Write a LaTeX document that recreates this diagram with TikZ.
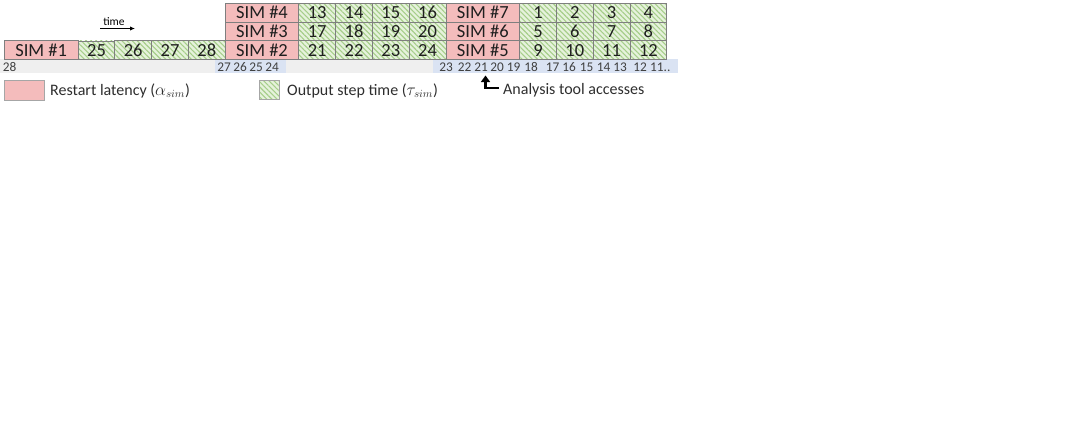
\documentclass[tikz,border=0pt]{standalone}
\usepackage{fontspec}
\setmainfont{Carlito}
\usetikzlibrary{patterns.meta,arrows.meta}
\definecolor{simpink}{HTML}{F4BCBC}
\definecolor{outgreen}{HTML}{E6F2DC}
\definecolor{stripe}{HTML}{A6CE8A}
\definecolor{cellline}{HTML}{7F7F7F}
\definecolor{bargray}{HTML}{EFEFEF}
\definecolor{barblue}{HTML}{DAE3F3}
\definecolor{numtext}{HTML}{404040}
\tikzset{
  cellbase/.style={draw=cellline, line width=0.8pt, minimum height=18.7pt, inner sep=0pt,
    anchor=north west, font=\fontsize{18.5}{18.5}\selectfont, text=black!88},
  simbox/.style={cellbase, fill=simpink, minimum width=73.6pt},
  outbox/.style={cellbase, minimum width=36.8pt, preaction={fill=outgreen},
    pattern={Lines[angle=-45,distance=3.6pt,line width=1.1pt]}, pattern color=stripe},
  barnum/.style={font=\fontsize{13.3}{13.3}\selectfont, text=numtext, inner sep=0pt},
  legtext/.style={font=\fontsize{16}{16}\selectfont, text=black!82, inner sep=0pt, anchor=west},
  legbox/.style={draw=black!35, line width=0.8pt, inner sep=0pt, anchor=north west},
}
\begin{document}
\begin{tikzpicture}[x=1pt,y=-1pt]
\useasboundingbox (0,0) rectangle (1070,428);
% bottom bar
\fill[bargray] (0,59.1) rectangle (678,73);
\fill[barblue] (215,59.1) rectangle (286,73);
\fill[barblue] (433,59.1) rectangle (678,73);
% row 3
\node[simbox] (s1) at (4,40.4) {SIM \#1};
\foreach \n [count=\i from 0] in {25,26,27,28}
  \node[outbox] (c\n) at (77.6+36.8*\i,40.4) {\n};
\node[simbox] (s2) at (224.8,40.4) {SIM \#2};
\foreach \n [count=\i from 0] in {21,22,23,24}
  \node[outbox] (c\n) at (298.4+36.8*\i,40.4) {\n};
\node[simbox] (s5) at (445.6,40.4) {SIM \#5};
\foreach \n [count=\i from 0] in {9,10,11,12}
  \node[outbox] (c\n) at (519.2+36.8*\i,40.4) {\n};
% row 2
\node[simbox] (s3) at (224.8,21.7) {SIM \#3};
\foreach \n [count=\i from 0] in {17,18,19,20}
  \node[outbox] (c\n) at (298.4+36.8*\i,21.7) {\n};
\node[simbox] (s6) at (445.6,21.7) {SIM \#6};
\foreach \n [count=\i from 0] in {5,6,7,8}
  \node[outbox] (c\n) at (519.2+36.8*\i,21.7) {\n};
% row 1
\node[simbox] (s4) at (224.8,3) {SIM \#4};
\foreach \n [count=\i from 0] in {13,14,15,16}
  \node[outbox] (c\n) at (298.4+36.8*\i,3) {\n};
\node[simbox] (s7) at (445.6,3) {SIM \#7};
\foreach \n [count=\i from 0] in {1,2,3,4}
  \node[outbox] (c\n) at (519.2+36.8*\i,3) {\n};
% bar numbers
\foreach \n/\x in {28/9.5,27/224,26/240,25/256,24/272,23/446,22/464.5,21/481,20/497,19/513.5,18/531,17/552.5,16/569,15/586.5,14/603.5,13/620,12/640}
  \node[barnum] (b\n) at (\x,66.8) {\n};
\node[barnum, anchor=west] (b11) at (650,66.8) {11..};
% time
\node[font=\fontsize{11.5}{11.5}\selectfont, inner sep=0pt] (timelbl) at (114,21.5) {time};
\coordinate (t0) at (100,28.5);
\coordinate (t1) at (135,28.5);
\draw[line width=1.2pt, -{Latex[length=5pt,width=4.5pt]}] (t0) -- (t1);
% legend
\node[legbox, fill=simpink, minimum width=40pt, minimum height=20pt] (legpink) at (4,80) {};
\node[legtext] (legpinktxt) at (50,90.5) {Restart latency ($\alpha_{sim}$)};
\node[legbox, minimum width=19.5pt, minimum height=19pt, preaction={fill=outgreen},
  pattern={Lines[angle=-45,distance=3.6pt,line width=1.1pt]}, pattern color=stripe] (leggreen) at (259,80) {};
\node[legtext] (leggreentxt) at (287,90.5) {Output step time ($\tau_{sim}$)};
% analysis arrow
\node[legtext] (analysis) at (503,90.5) {Analysis tool accesses};
\coordinate (accfrom) at (499,88);
\coordinate (accto) at (485.5,75.5);
\draw[line width=2.6pt, -{Triangle[length=6.5pt,width=9pt]}] (accfrom) -| (accto);
\end{tikzpicture}
\end{document}
